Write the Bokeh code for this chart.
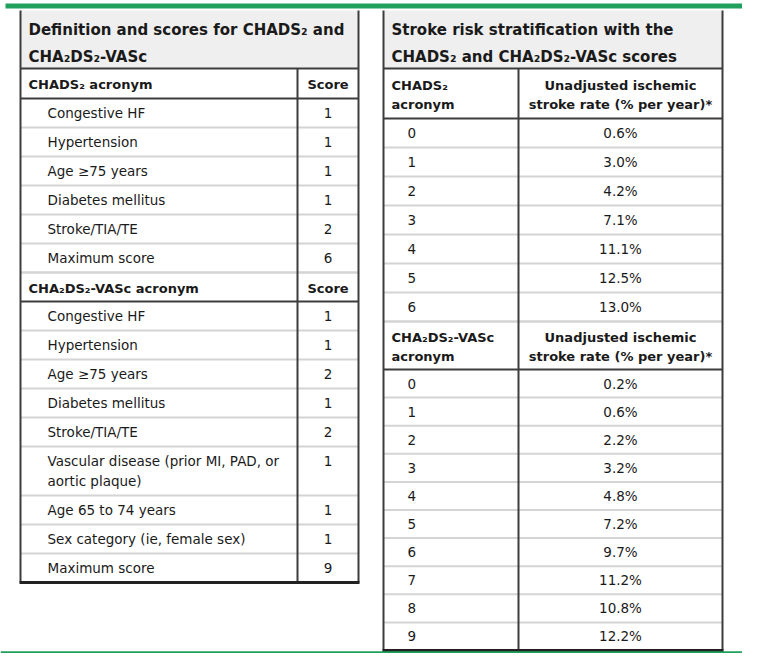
from bokeh.plotting import figure
from bokeh.models import Range1d, ColumnDataSource
from bokeh.core.properties import value
from bokeh.embed import file_html
from bokeh.resources import INLINE

# ---------------- data ----------------
left_title = ["Definition and scores for CHADS₂ and", "CHA₂DS₂-VASc"]
chads_head = ["CHADS₂ acronym", "Score"]
chads_items = ["Congestive HF", "Hypertension", "Age ≥75 years", "Diabetes mellitus",
               "Stroke/TIA/TE", "Maximum score"]
chads_scores = ["1", "1", "1", "1", "2", "6"]
vasc_head = ["CHA₂DS₂-VASc acronym", "Score"]
vasc_items = ["Congestive HF", "Hypertension", "Age ≥75 years", "Diabetes mellitus",
              "Stroke/TIA/TE", "Vascular disease (prior MI, PAD, or\naortic plaque)",
              "Age 65 to 74 years", "Sex category (ie, female sex)", "Maximum score"]
vasc_scores = ["1", "1", "2", "1", "2", "1", "1", "1", "9"]

right_title = ["Stroke risk stratification with the", "CHADS₂ and CHA₂DS₂-VASc scores"]
chads_rate_head = ["CHADS₂\nacronym", "Unadjusted ischemic\nstroke rate (% per year)*"]
chads_levels = ["0", "1", "2", "3", "4", "5", "6"]
chads_rates = ["0.6%", "3.0%", "4.2%", "7.1%", "11.1%", "12.5%", "13.0%"]
vasc_rate_head = ["CHA₂DS₂-VASc\nacronym", "Unadjusted ischemic\nstroke rate (% per year)*"]
vasc_levels = ["0", "1", "2", "3", "4", "5", "6", "7", "8", "9"]
vasc_rates = ["0.2%", "0.6%", "2.2%", "3.2%", "4.8%", "7.2%", "9.7%", "11.2%", "10.8%", "12.2%"]

# ---------------- styles ----------------
FONT = "DejaVu Sans"
TXT = "#1a1a1a"
DARK = "#3d3d3d"
LIGHT = "#d4d4d4"
GREEN = "#21a05d"
TITLE_BG = "#efefef"

W, H = 742, 653
p = figure(width=W, height=H, output_backend="svg", toolbar_location=None,
           x_range=Range1d(0, W), y_range=Range1d(H, 0),
           min_border=0, background_fill_color="white", border_fill_color="white")
p.axis.visible = False
p.grid.visible = False
p.outline_line_color = None

texts = {"title": [], "head": [], "body": []}
light_seg, dark_seg = [], []
bg = []


def add_text(kind, x, y, t, align):
    texts[kind].append((x, y, t, align))


def build_table(x0, xd, x1, title, sections, col1_indent,
                head_line_h=19, body_line_h=20):
    """sections: list of (header_pair, header_height, items, values, row_height)"""
    y = 10
    th = 58
    bg.append((x0, x1, y, y + th))
    for k, line in enumerate(title):
        add_text("title", x0 + 8, y + 19 + 27 * k, line, "left")
    y += th
    dark_seg.append((x0, y, x1, y))
    vtop = y
    for si, (hp, hh, items, vals, rh) in enumerate(sections):
        l1 = hp[0].split("\n")
        l2 = hp[1].split("\n")
        n = max(len(l1), len(l2))
        off = hh / 2 - (n - 1) * head_line_h / 2 + 1
        for k, line in enumerate(l1):
            add_text("head", x0 + 8, y + off + head_line_h * k, line, "left")
        for k, line in enumerate(l2):
            add_text("head", (xd + x1) / 2, y + off + head_line_h * k, line, "center")
        if si > 0:
            light_seg.append((x0, y, x1, y))
        y += hh
        dark_seg.append((x0, y, x1, y))
        for j, (it, v) in enumerate(zip(items, vals)):
            lines = it.split("\n")
            h = rh + (len(lines) - 1) * body_line_h
            for k, line in enumerate(lines):
                add_text("body", x0 + col1_indent, y + rh / 2 + body_line_h * k, line, "left")
            add_text("body", (xd + x1) / 2, y + rh / 2, v, "center")
            y += h
            if not (si == len(sections) - 1 and j == len(items) - 1):
                light_seg.append((x0, y, x1, y))
    ybot = y
    dark_seg.append((x0, 10, x0, ybot))
    dark_seg.append((x1, 10, x1, ybot))
    dark_seg.append((xd, vtop, xd, ybot))
    return ybot


lb = build_table(20, 297, 358, left_title,
                 [(chads_head, 30, chads_items, chads_scores, 29),
                  (vasc_head, 29, vasc_items, vasc_scores, 29)],
                 27)
rb = build_table(383, 518, 722, right_title,
                 [(chads_rate_head, 50, chads_levels, chads_rates, 29),
                  (vasc_rate_head, 48, vasc_levels, vasc_rates, 28.1)],
                 24)

p.quad(left=[b[0] for b in bg], right=[b[1] for b in bg],
       top=[b[2] for b in bg], bottom=[b[3] for b in bg],
       fill_color=TITLE_BG, line_color=None)

p.segment(x0=[s[0] for s in light_seg], y0=[s[1] for s in light_seg],
          x1=[s[2] for s in light_seg], y1=[s[3] for s in light_seg],
          line_color=LIGHT, line_width=2)
p.segment(x0=[s[0] for s in dark_seg], y0=[s[1] for s in dark_seg],
          x1=[s[2] for s in dark_seg], y1=[s[3] for s in dark_seg],
          line_color=DARK, line_width=2)
p.segment(x0=[19, 382], y0=[lb, rb], x1=[359, 723], y1=[lb, rb],
          line_color="#222222", line_width=3)

p.segment(x0=[5], y0=[5.5], x1=[753], y1=[5.5], line_color=GREEN, line_width=5)
p.segment(x0=[0], y0=[652], x1=[753], y1=[652], line_color=GREEN, line_width=2.5)

styles = {"title": ("15px", "bold"), "head": ("13px", "bold"), "body": ("13.5px", "normal")}
for kind, items in texts.items():
    size, weight = styles[kind]
    for align in ("left", "center"):
        sel = [t for t in items if t[3] == align]
        if not sel:
            continue
        src = ColumnDataSource(dict(x=[t[0] for t in sel], y=[t[1] for t in sel],
                                    text=[t[2] for t in sel]))
        p.text(x="x", y="y", text="text", source=src, text_align=align,
               text_baseline="middle", text_font=value(FONT), text_font_size=size,
               text_font_style=weight, text_color=TXT)

open("out.html", "w").write(file_html(p, INLINE))
